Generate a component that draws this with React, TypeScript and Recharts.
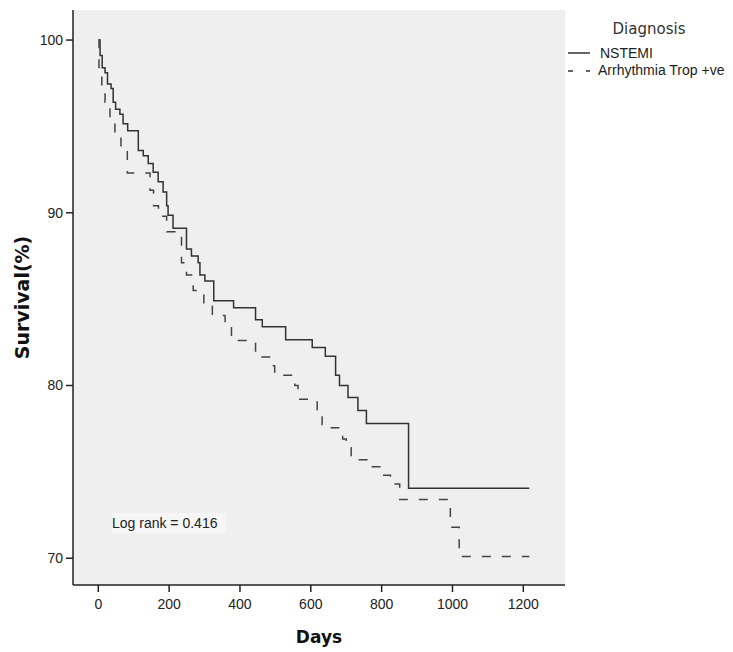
import { LineChart, Line, XAxis, YAxis, CartesianGrid } from "recharts";

// Kaplan–Meier steps, days since admission vs. survival (%)
const nstemiDays = [0, 5, 11, 19, 26, 36, 42, 49, 61, 70, 83, 113, 127, 141, 155, 169, 183, 193, 197, 211, 249, 263, 282, 287, 301, 326, 382, 444, 463, 529, 604, 641, 670, 681, 705, 733, 757, 876, 1217];
const nstemiSurvival = [100, 99.1, 98.4, 98.1, 97.45, 97.2, 96.4, 96.0, 95.7, 95.15, 94.75, 93.6, 93.3, 92.85, 92.35, 91.8, 91.2, 90.4, 89.85, 89.1, 87.9, 87.5, 87.1, 86.4, 86.05, 84.9, 84.5, 83.8, 83.4, 82.65, 82.2, 81.7, 80.6, 80.0, 79.3, 78.55, 77.8, 74.05, 74.05];

const arrhythmiaDays = [0, 2, 10, 19, 33, 47, 64, 82, 146, 156, 170, 193, 235, 249, 268, 298, 322, 358, 376, 444, 486, 498, 555, 564, 618, 632, 690, 700, 714, 770, 795, 825, 851, 994, 1019, 1217];
const arrhythmiaSurvival = [100, 98.2, 97.3, 96.4, 95.4, 94.5, 93.6, 92.3, 91.3, 90.4, 89.8, 88.9, 87.1, 86.4, 85.5, 84.6, 84.05, 83.55, 82.6, 81.65, 81.15, 80.6, 80.0, 79.2, 78.6, 77.55, 76.9, 76.4, 75.7, 75.3, 74.8, 74.3, 73.4, 71.8, 70.1, 70.1];

const dayTicks = [0, 200, 400, 600, 800, 1000, 1200];
const survivalTicks = [70, 80, 90, 100];
const seriesNames = ["NSTEMI", "Arrhythmia Trop +ve"];
const logRankText = "Log rank = 0.416";

const toRows = (days: number[], surv: number[]) =>
  days.map((d, i) => ({ day: d, survival: surv[i] }));

const nstemiRows = toRows(nstemiDays, nstemiSurvival);
const arrhythmiaRows = toRows(arrhythmiaDays, arrhythmiaSurvival);

const SANS = '"Liberation Sans", Arial, sans-serif';
const WIDE = '"DejaVu Sans", Verdana, sans-serif';
const tickStyle = { fill: "#222", fontSize: 14, fontFamily: SANS };

function DiagnosisLegend() {
  return (
    <svg width={168} height={84} style={{ position: "absolute", left: 565, top: 0 }}>
      <text x={84} y={34} textAnchor="middle" fontSize={15} fontFamily={WIDE} fill="#333">
        Diagnosis
      </text>
      <line x1={3} x2={25} y1={53} y2={53} stroke="#333" strokeWidth={1.5} />
      <text x={35} y={58} fontSize={14} fontFamily={SANS} fill="#222">
        {seriesNames[0]}
      </text>
      <line x1={3} x2={25} y1={71} y2={71} stroke="#333" strokeWidth={1.5} strokeDasharray="5 13 4" />
      <text x={33} y={75} fontSize={14} fontFamily={SANS} fill="#222">
        {seriesNames[1]}
      </text>
    </svg>
  );
}

function SurvivalLabel(props: any) {
  const vb = props.viewBox || { x: 0, y: 10, width: 73, height: 575 };
  const cx = vb.x + 22;
  const cy = vb.y + vb.height / 2;
  return (
    <text
      x={cx}
      y={cy}
      transform={`rotate(-90 ${cx} ${cy})`}
      textAnchor="middle"
      dominantBaseline="central"
      fontSize={19}
      fontWeight="bold"
      fontFamily={WIDE}
      fill="#111"
    >
      Survival(%)
    </text>
  );
}

export default function App() {
  const xDomain = [-71.4, 1317.7];
  const yDomain = [68.45, 101.74];
  return (
    <div style={{ position: "absolute", left: 0, top: 0, width: 733, height: 652, background: "#fff" }}>
      <LineChart width={733} height={652} margin={{ top: 10, right: 168, bottom: 0, left: 0 }}>
        <CartesianGrid horizontal={false} vertical={false} fill="#efefef" />
        <XAxis
          dataKey="day"
          type="number"
          domain={xDomain}
          ticks={dayTicks}
          allowDataOverflow
          height={67}
          tickSize={7}
          tickMargin={7}
          tick={tickStyle}
          axisLine={{ stroke: "#222", strokeWidth: 1.5 }}
          tickLine={{ stroke: "#222", strokeWidth: 1.5 }}
          label={{ value: "Days", position: "insideBottom", offset: 9, fill: "#111", fontSize: 17, fontWeight: "bold", fontFamily: WIDE }}
        />
        <XAxis
          xAxisId="top"
          orientation="top"
          type="number"
          domain={xDomain}
          height={0}
          tick={false}
          tickLine={false}
          axisLine={{ stroke: "#333", strokeWidth: 1.5 }}
        />
        <YAxis
          type="number"
          domain={yDomain}
          ticks={survivalTicks}
          allowDataOverflow
          width={73}
          tickSize={7}
          tickMargin={3}
          tick={tickStyle}
          axisLine={{ stroke: "#222", strokeWidth: 1.5 }}
          tickLine={{ stroke: "#222", strokeWidth: 1.5 }}
          label={SurvivalLabel}
        />
        <YAxis
          yAxisId="right"
          orientation="right"
          type="number"
          domain={yDomain}
          width={0}
          tick={false}
          tickLine={false}
          axisLine={{ stroke: "#888", strokeWidth: 2 }}
        />
        <Line
          data={nstemiRows}
          dataKey="survival"
          name={seriesNames[0]}
          type="stepAfter"
          stroke="#333"
          strokeWidth={1.5}
          dot={false}
          isAnimationActive={false}
        />
        <Line
          data={arrhythmiaRows}
          dataKey="survival"
          name={seriesNames[1]}
          type="stepAfter"
          stroke="#444"
          strokeWidth={1.5}
          strokeDasharray="9 11"
          dot={false}
          isAnimationActive={false}
        />
      </LineChart>
      <DiagnosisLegend />
      <div
        style={{
          position: "absolute",
          left: 112,
          top: 513,
          width: 114,
          height: 20,
          lineHeight: "20px",
          background: "#f6f6f6",
          color: "#222",
          fontSize: 14,
          fontFamily: SANS,
          whiteSpace: "nowrap",
        }}
      >
        {logRankText}
      </div>
    </div>
  );
}
